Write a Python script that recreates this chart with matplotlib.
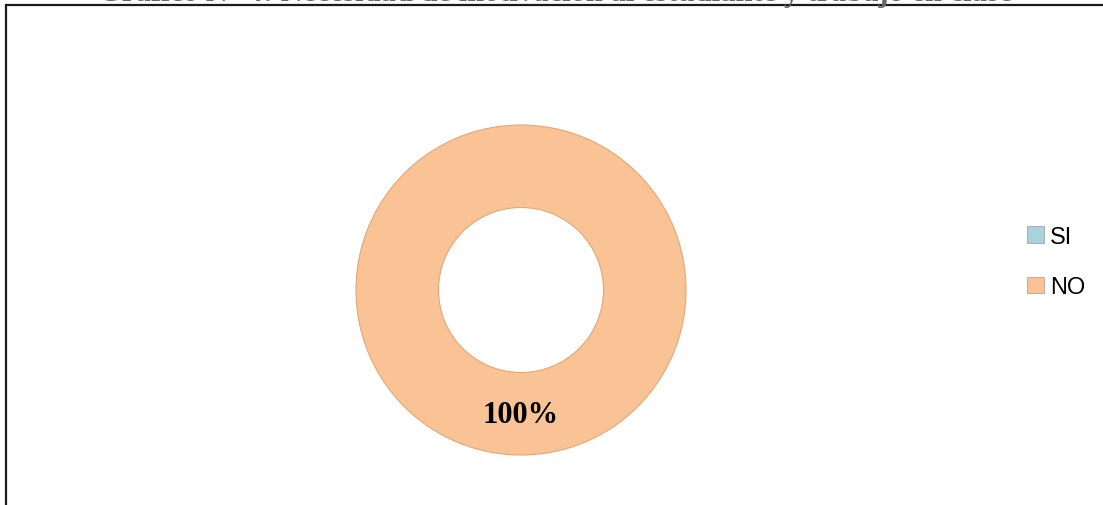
import matplotlib
matplotlib.use("Agg")
import matplotlib.pyplot as plt
from matplotlib.patches import Rectangle
from matplotlib import font_manager

categories = ["SI", "NO"]
values = [0, 100]
colors = ["#A9D3DB", "#FAC396"]
pct_labels = ["", "100%"]
title = "Gráfico N° 4: Necesidad de motivación al estudiante y trabajo en clase"

W, H = 1103, 506
fig = plt.figure(figsize=(W / 100, H / 100), dpi=100)
fig.patch.set_facecolor("white")

avail = {f.name for f in font_manager.fontManager.ttflist}
narrow = "Liberation Sans Narrow" if "Liberation Sans Narrow" in avail else "Liberation Sans"

# outer frame (partly outside the figure)
fig.patches.append(Rectangle((6 / W, -0.2), 1.2, 1.2 - 6 / H, transform=fig.transFigure,
                             fill=False, edgecolor="#1a1a1a", linewidth=1.6))

# title cut off at the top edge (only its lowest sliver shows)
fig.text(555 / W, 1 - 1.0 / H, title, ha="center", va="baseline",
         fontsize=22, fontweight="bold", family="Liberation Serif", color="#666666")

cx, cy, R = 521, 291, 165
ax = fig.add_axes([(cx - R) / W, (H - cy - R) / H, 2 * R / W, 2 * R / H])
wedges, _ = ax.pie(values, colors=colors, startangle=90, counterclock=False,
                   radius=1.0, wedgeprops=dict(width=0.5, edgecolor="#E2A874", linewidth=0.8))
for w, lab in zip(wedges, pct_labels):
    if lab:
        ax.text(0, -0.755, lab, ha="center", va="center", fontsize=22,
                fontweight="bold", family="Liberation Serif", color="black")
ax.set_xlim(-1, 1)
ax.set_ylim(-1, 1)
ax.set_aspect("equal")
ax.axis("off")

leg = fig.legend(wedges, categories, loc="center left",
                 bbox_to_anchor=(1006 / W, (H - 263) / H), frameon=False,
                 handlelength=0.7, handleheight=0.7, handletextpad=0.25,
                 labelspacing=1.2, prop={"family": narrow, "size": 17})
for h, c in zip(leg.legend_handles, colors):
    h.set_facecolor(c)
    h.set_edgecolor("#9a9a9a")
    h.set_linewidth(0.5)

fig.savefig("out.png", dpi=100, facecolor="white")
